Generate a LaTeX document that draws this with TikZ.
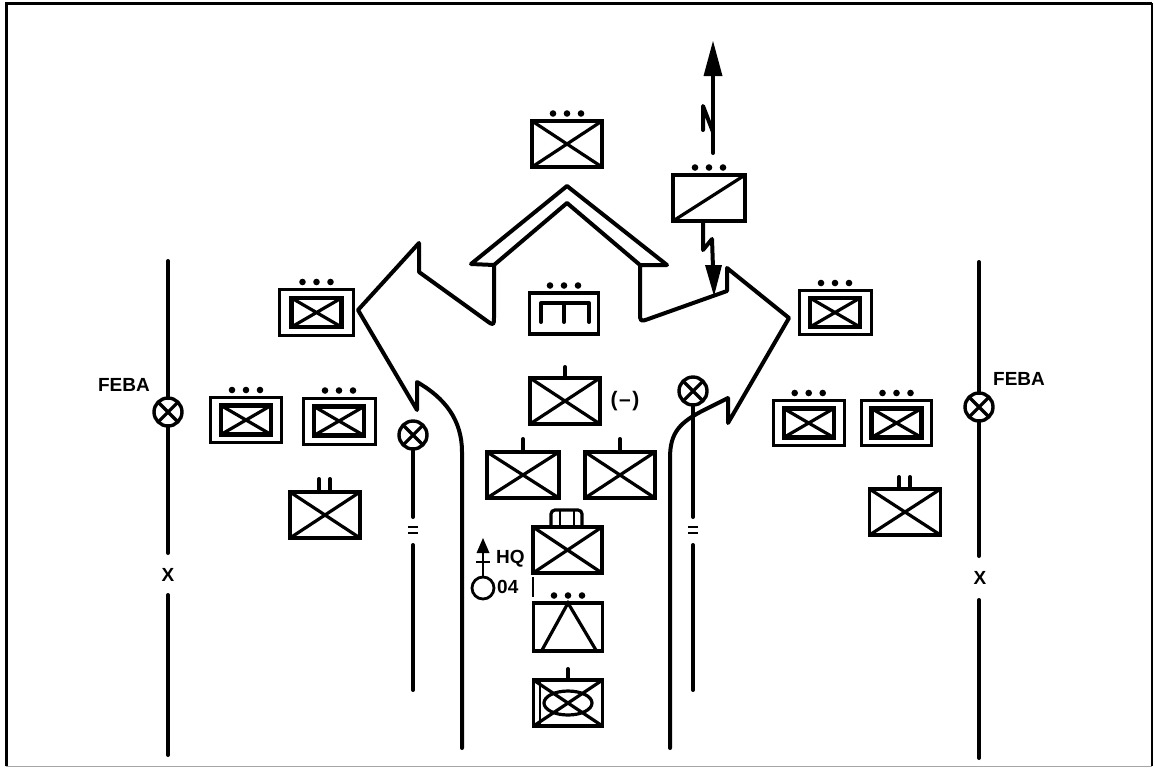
\documentclass[tikz,border=0pt]{standalone}
\usepackage{fontspec}
\setmainfont{Liberation Sans}
\newcommand\xcross[1]{\draw[xl] (#1.north west) -- (#1.south east) (#1.north east) -- (#1.south west);}
\newcommand\tridots[1]{\foreach \dd in {-14,0,14} \fill ([xshift=\dd pt, yshift=7.5pt]#1.north) circle (3.3pt);}
\begin{document}
\begin{tikzpicture}[x=1pt,y=-1pt,
  ln/.style={line width=4pt, line cap=round, line join=round},
  ubox/.style={draw, rectangle, line width=3.8pt, inner sep=0pt, outer sep=0pt, minimum width=70pt, minimum height=46pt},
  obox/.style={draw, rectangle, line width=3pt, inner sep=0pt, outer sep=0pt, minimum width=72pt, minimum height=45pt},
  ibox/.style={draw, rectangle, line width=4.4pt, inner sep=0pt, outer sep=0pt, minimum width=50pt, minimum height=29pt},
  xl/.style={line width=3.2pt},
  ring/.style={draw, circle, line width=3.4pt, minimum size=28pt, inner sep=0pt, outer sep=0pt},
  lbl/.style={font=\bfseries\fontsize{19}{19}\selectfont, inner sep=0pt},
]
\useasboundingbox (0,0) rectangle (1155,769);
% frame
\draw[line width=3pt] (6,766) -- (6,3) -- (1152,3);
\draw[line width=1.4pt] (1152,3) -- (1152,766);
\draw[gray!70, line width=1pt] (6,766) -- (1152,766);

% FEBA lines
\node[ring] (fl) at (168,412) {};
\draw[xl] (fl.north west) -- (fl.south east) (fl.north east) -- (fl.south west);
\coordinate (fl1) at (168,261); \coordinate (fl2) at (168,553);
\coordinate (fl3) at (168,595); \coordinate (fl4) at (168,755);
\draw[ln] (fl1) -- (fl.north) (fl.south) -- (fl2) (fl3) -- (fl4);
\node[lbl, anchor=east] (feba1) at (150,385) {FEBA};
\node[lbl] (xl1) at (168,575) {X};

\node[ring] (fr) at (979,407) {};
\draw[xl] (fr.north west) -- (fr.south east) (fr.north east) -- (fr.south west);
\coordinate (fr1) at (979,262); \coordinate (fr2) at (979,556);
\coordinate (fr3) at (979,600); \coordinate (fr4) at (979,758);
\draw[ln] (fr1) -- (fr.north) (fr.south) -- (fr2) (fr3) -- (fr4);
\node[lbl, anchor=west] (feba2) at (993,379) {FEBA};
\node[lbl] (xr1) at (980,578) {X};

% boundary markers
\node[ring] (ml) at (413,435) {};
\draw[xl] (ml.north west) -- (ml.south east) (ml.north east) -- (ml.south west);
\coordinate (ml1) at (413,517); \coordinate (ml2) at (413,545); \coordinate (ml3) at (413,690);
\draw[ln] (ml.south) -- (ml1) (ml2) -- (ml3);
\draw[line width=2.8pt] (408,527) -- (418,527) (408,533) -- (418,533);

\node[ring] (mr) at (693,391) {};
\draw[xl] (mr.north west) -- (mr.south east) (mr.north east) -- (mr.south west);
\coordinate (mr1) at (693,517); \coordinate (mr2) at (693,545); \coordinate (mr3) at (693,690);
\draw[ln] (mr.south) -- (mr1) (mr2) -- (mr3);
\draw[line width=2.8pt] (688,527) -- (698,527) (688,533) -- (698,533);

% main three-headed arrow outline
\draw[ln] (462,748) -- (462,452) .. controls (462,420) and (445,398) .. (417,382)
  -- (417,410) -- (358,310) -- (419,243) -- (419,272) -- (485.9,320.2)
  .. controls (494,326) .. (494,316) -- (494,265) -- (471,264) -- (567,186)
  -- (667,265) -- (640,265) -- (640,312) .. controls (640,322) .. (649.4,318.6)
  -- (727,291) -- (727,268) -- (789,318) -- (728,423) -- (728,398) -- (706,409)
  .. controls (680,422) and (670,432) .. (670,458) -- (670,748);
\draw[ln] (494,265) -- (567,203) -- (640,265);

% top unit
\node[ubox] (top) at (567,144) {}; \xcross{top} \tridots{top}

% signal unit with lightning arrows
\node[ubox, minimum width=72pt] (sig) at (709,198) {};
\draw[xl] (sig.south west) -- (sig.north east);
\tridots{sig}
\coordinate (up1) at (713,153);
\coordinate (up2) at (713,70);
\draw[ln] (up1) -- (up2);
\draw[ln] (713,132) -- (703,106) -- (703,130);
\fill (713,41) -- (722.5,76) -- (703.5,76) -- cycle;
\draw[ln] (sig.south -| 703,0) -- (703,250) -- (712,239) -- (713,268);
\fill (705,265) -- (722,265) -- (714,296) -- cycle;

% engineer-type box
\node[ubox, minimum width=69pt, minimum height=41pt] (eng) at (564,313.5) {};
\tridots{eng}
\draw[ln] (541,322) -- (541,303) -- (589,303) -- (589,322) (564,303) -- (564,322);

% (-) unit
\node[ubox] (m1) at (565,401) {}; \xcross{m1}
\draw[ln] (m1.north) -- ++(0,-11);
\node[font=\bfseries\fontsize{21}{21}\selectfont, inner sep=0pt] (minus) at (625,401) {(\kern1.5pt--\kern1.5pt)};

\node[ubox, minimum width=72pt] (m2) at (523,475) {}; \xcross{m2}
\draw[ln] (m2.north) -- ++(0,-13);
\node[ubox, minimum width=70pt] (m3) at (620,475) {}; \xcross{m3}
\draw[ln] (m3.north) -- ++(0,-13);

% tracked unit
\node[ubox, minimum width=69pt] (trk) at (567.5,550) {}; \xcross{trk}
\draw[line width=3.2pt, rounded corners=4pt] (551,526) -- (551,510) -- (582,510) -- (582,526);
\draw[line width=2.8pt] (560,511) -- (560,526) (574,511) -- (574,526);

% HQ
\node[draw, circle, line width=2.8pt, minimum size=22pt, inner sep=0pt, outer sep=0pt] (hq) at (483,588) {};
\coordinate (hqa) at (483,551);
\draw[line width=2.8pt] (hq.north) -- (hqa) (476,562) -- (490,562);
\fill (483,538) -- (489.5,553) -- (476.5,553) -- cycle;
\node[lbl, anchor=west] (hqt) at (496,559) {HQ};
\node[lbl, anchor=west] (hq4) at (497,587) {04};
\draw[line width=2.8pt] (533,577) -- (533,597);

% artillery-type box
\node[ubox, minimum width=69pt, minimum height=48pt] (art) at (568,627) {}; \tridots{art}
\draw[xl] ([xshift=8pt]art.south west) -- (art.north) -- ([xshift=-6pt]art.south east);

% bottom unit
\node[ubox, minimum width=69pt] (bot) at (568,703) {}; \xcross{bot}
\draw[ln] (bot.north) -- ++(0,-11);
\draw[xl] (bot.center) ellipse (24pt and 12pt);
\draw[line width=2.6pt] (540,681) -- (540,725);

% left side units
\node[obox, minimum width=74pt, minimum height=46pt] (l1) at (316.5,312.5) {};
\node[ibox] (l1i) at (l1.center) {}; \xcross{l1i} \tridots{l1}
\node[obox, minimum width=71pt, minimum height=45pt] (l2) at (246,420) {};
\node[ibox] (l2i) at (l2.center) {}; \xcross{l2i} \tridots{l2}
\node[obox, minimum width=72pt, minimum height=46pt] (l3) at (339,421) {};
\node[ibox] (l3i) at (l3.center) {}; \xcross{l3i} \tridots{l3}
\node[ubox] (l4) at (325,515) {}; \xcross{l4}
\draw[ln] ([xshift=-6pt]l4.north) -- ++(0,-13) ([xshift=5pt]l4.north) -- ++(0,-13);

% right side units
\node[obox, minimum width=72pt, minimum height=44pt] (r1) at (835,312.5) {};
\node[ibox] (r1i) at (r1.center) {}; \xcross{r1i} \tridots{r1}
\node[obox, minimum width=71pt, minimum height=45pt] (r2) at (808.7,423) {};
\node[ibox] (r2i) at (r2.center) {}; \xcross{r2i} \tridots{r2}
\node[obox, minimum width=70pt, minimum height=45pt] (r3) at (896.5,423) {};
\node[ibox] (r3i) at (r3.center) {}; \xcross{r3i} \tridots{r3}
\node[ubox, minimum width=71pt] (r4) at (905,512) {}; \xcross{r4}
\draw[ln] ([xshift=-6pt]r4.north) -- ++(0,-12) ([xshift=5pt]r4.north) -- ++(0,-12);
\end{tikzpicture}
\end{document}
